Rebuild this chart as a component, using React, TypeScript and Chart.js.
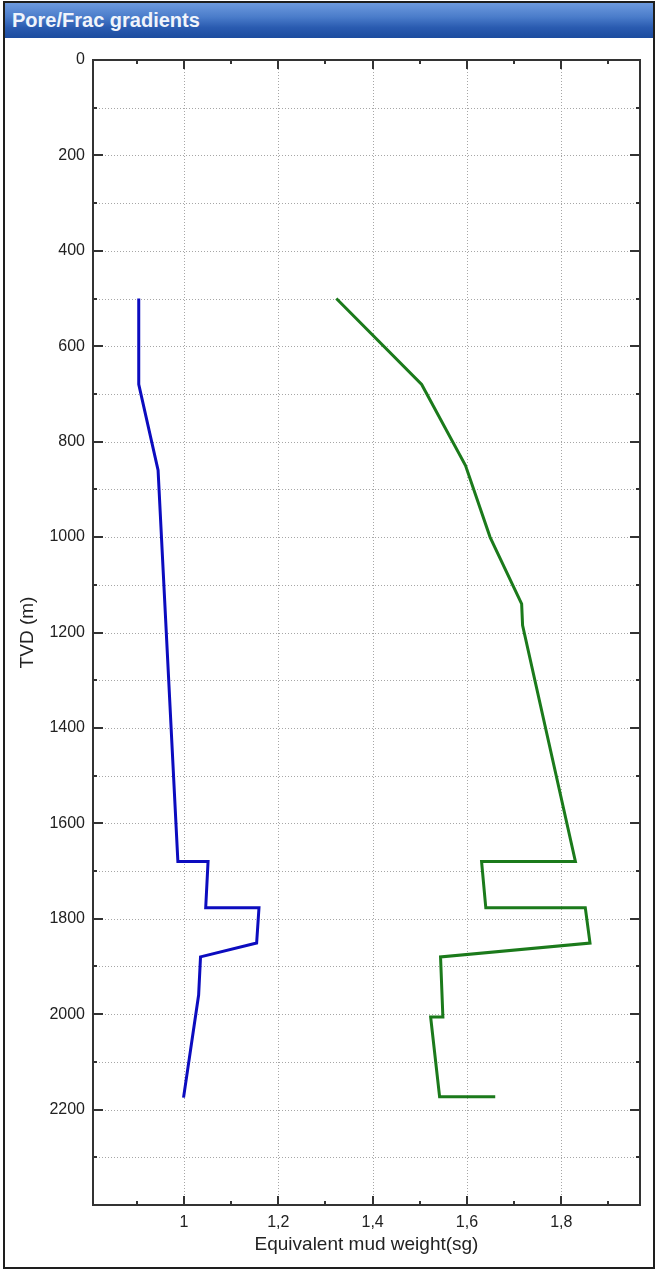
import { useEffect, useRef } from 'react';
import { Chart, registerables } from 'chart.js';

Chart.register(...registerables);

// Pore pressure gradient (equivalent mud weight, sg) against true vertical depth (m)
const PORE_DEPTH = [500, 680, 860, 1680, 1680, 1777, 1777, 1851, 1880, 1960, 2175];
const PORE_EMW = [0.904, 0.904, 0.945, 0.987, 1.051, 1.046, 1.159, 1.154, 1.035, 1.031, 0.999];

// Fracture gradient
const FRAC_DEPTH = [500, 680, 850, 1000, 1140, 1185, 1680, 1680, 1777, 1777, 1851, 1880, 2006, 2006, 2173, 2173];
const FRAC_EMW = [1.323, 1.504, 1.597, 1.649, 1.716, 1.718, 1.83, 1.631, 1.64, 1.851, 1.861, 1.544, 1.549, 1.523, 1.542, 1.66];

// Axis ticks
const X_TICKS = [0.9, 1, 1.1, 1.2, 1.3, 1.4, 1.5, 1.6, 1.7, 1.8, 1.9];
const X_LABELED = [1, 1.2, 1.4, 1.6, 1.8];
const Y_TICKS = [0, 100, 200, 300, 400, 500, 600, 700, 800, 900, 1000, 1100, 1200, 1300, 1400, 1500, 1600, 1700, 1800, 1900, 2000, 2100, 2200, 2300];
const Y_LABELED = [0, 200, 400, 600, 800, 1000, 1200, 1400, 1600, 1800, 2000, 2200];

const X_MIN = 0.807;
const X_MAX = 1.967;
const Y_MIN = 0;
const Y_MAX = 2400;

const PORE_COLOR = '#0c0cbf';
const FRAC_COLOR = '#1b7a1b';
const GRID_COLOR = '#a6a6a6';
const AXIS_COLOR = '#333333';
const TEXT_COLOR = '#222222';
const FONT = "'Liberation Sans', Arial, sans-serif";

const isLabeledX = (v: number) => X_LABELED.some((m) => Math.abs(m - v) < 1e-6);
const isLabeledY = (v: number) => Y_LABELED.includes(v);
const formatX = (v: number) => String(Math.round(v * 10) / 10).replace('.', ',');

const toPoints = (depths: number[], values: number[]) =>
  depths.map((d, i) => ({ x: values[i], y: d }));

// Dotted grid, plot frame and inward tick marks on all four sides
const plotFrame = {
  id: 'plotFrame',
  beforeDatasetsDraw(chart: any) {
    const { ctx, chartArea: a, scales } = chart;
    ctx.save();
    ctx.strokeStyle = GRID_COLOR;
    ctx.lineWidth = 1;
    ctx.setLineDash([1, 2]);
    ctx.beginPath();
    for (const v of X_LABELED) {
      const x = Math.round(scales.x.getPixelForValue(v)) + 0.5;
      ctx.moveTo(x, a.top);
      ctx.lineTo(x, a.bottom);
    }
    for (const v of Y_TICKS) {
      if (v === Y_MIN) continue;
      const y = Math.round(scales.y.getPixelForValue(v)) + 0.5;
      ctx.moveTo(a.left, y);
      ctx.lineTo(a.right, y);
    }
    ctx.stroke();
    ctx.restore();
  },
  afterDatasetsDraw(chart: any) {
    const { ctx, chartArea: a, scales } = chart;
    ctx.save();
    ctx.setLineDash([]);
    ctx.strokeStyle = AXIS_COLOR;
    ctx.lineWidth = 2;
    ctx.strokeRect(a.left, a.top, a.right - a.left, a.bottom - a.top);
    ctx.beginPath();
    for (const v of X_TICKS) {
      const x = Math.round(scales.x.getPixelForValue(v));
      const len = isLabeledX(v) ? 9 : 4;
      ctx.moveTo(x, a.bottom);
      ctx.lineTo(x, a.bottom - len);
      ctx.moveTo(x, a.top);
      ctx.lineTo(x, a.top + len);
    }
    for (const v of Y_TICKS) {
      if (v === Y_MIN) continue;
      const y = Math.round(scales.y.getPixelForValue(v));
      const len = isLabeledY(v) ? 10 : 4;
      ctx.moveTo(a.left, y);
      ctx.lineTo(a.left + len, y);
      ctx.moveTo(a.right, y);
      ctx.lineTo(a.right - len, y);
    }
    ctx.stroke();
    ctx.restore();
  },
};

export default function App() {
  const canvasRef = useRef<HTMLCanvasElement | null>(null);

  useEffect(() => {
    const canvas = canvasRef.current;
    if (!canvas) return;
    const chart = new Chart(canvas, {
      type: 'scatter',
      data: {
        datasets: [
          {
            label: 'Pore gradient',
            data: toPoints(PORE_DEPTH, PORE_EMW),
            showLine: true,
            borderColor: PORE_COLOR,
            backgroundColor: PORE_COLOR,
            borderWidth: 3,
            pointRadius: 0,
            tension: 0,
            fill: false,
          },
          {
            label: 'Frac gradient',
            data: toPoints(FRAC_DEPTH, FRAC_EMW),
            showLine: true,
            borderColor: FRAC_COLOR,
            backgroundColor: FRAC_COLOR,
            borderWidth: 3,
            pointRadius: 0,
            tension: 0,
            fill: false,
          },
        ],
      },
      options: {
        responsive: false,
        maintainAspectRatio: false,
        animation: false,
        events: [],
        layout: { padding: { left: 0, top: 60, right: 17, bottom: 0 } },
        plugins: {
          legend: { display: false },
          tooltip: { enabled: false },
        },
        scales: {
          x: {
            type: 'linear',
            position: 'bottom',
            min: X_MIN,
            max: X_MAX,
            afterBuildTicks: (scale: any) => {
              scale.ticks = X_TICKS.map((v) => ({ value: v }));
            },
            afterFit: (scale: any) => {
              scale.height = 66;
            },
            grid: { display: false, drawTicks: false },
            border: { display: false },
            ticks: {
              autoSkip: false,
              maxRotation: 0,
              padding: 8,
              color: TEXT_COLOR,
              font: { family: FONT, size: 16 },
              callback: (v: any) => (isLabeledX(Number(v)) ? formatX(Number(v)) : ''),
            },
            title: {
              display: true,
              text: 'Equivalent mud weight(sg)',
              color: TEXT_COLOR,
              font: { family: FONT, size: 19 },
              padding: { top: 0, bottom: 15 },
            },
          },
          y: {
            type: 'linear',
            position: 'left',
            reverse: true,
            min: Y_MIN,
            max: Y_MAX,
            afterBuildTicks: (scale: any) => {
              scale.ticks = Y_TICKS.map((v) => ({ value: v }));
            },
            afterFit: (scale: any) => {
              scale.width = 93;
            },
            grid: { display: false, drawTicks: false },
            border: { display: false },
            ticks: {
              autoSkip: false,
              padding: 8,
              color: TEXT_COLOR,
              font: { family: FONT, size: 16 },
              callback: (v: any) => (isLabeledY(Number(v)) ? String(v) : ''),
            },
            title: {
              display: true,
              text: 'TVD (m)',
              color: TEXT_COLOR,
              font: { family: FONT, size: 19 },
              padding: { top: 16, bottom: 0 },
            },
          },
        },
      },
      plugins: [plotFrame],
    });
    return () => chart.destroy();
  }, []);

  return (
    <div
      style={{
        position: 'absolute',
        left: 0,
        top: 0,
        width: 657,
        height: 1271,
        background: '#ffffff',
        overflow: 'hidden',
      }}
    >
      <div
        style={{
          position: 'absolute',
          left: 3,
          top: 1,
          width: 652,
          height: 1268,
          boxSizing: 'border-box',
          border: '2px solid #1e1e1e',
          background: '#ffffff',
        }}
      />
      <div
        style={{
          position: 'absolute',
          left: 5,
          top: 3,
          width: 648,
          height: 35,
          background: 'linear-gradient(to bottom, #6d9ade 0%, #4a7cca 40%, #2a5bb0 70%, #1c4c9f 100%)',
          color: '#f0f4fb',
          fontFamily: FONT,
          fontWeight: 'bold',
          fontSize: 20,
          lineHeight: '34px',
          paddingLeft: 7,
          boxSizing: 'border-box',
          whiteSpace: 'nowrap',
        }}
      >
        Pore/Frac gradients
      </div>
      <canvas
        ref={canvasRef}
        width={657}
        height={1271}
        style={{ position: 'absolute', left: 0, top: 0, width: 657, height: 1271 }}
      />
    </div>
  );
}
